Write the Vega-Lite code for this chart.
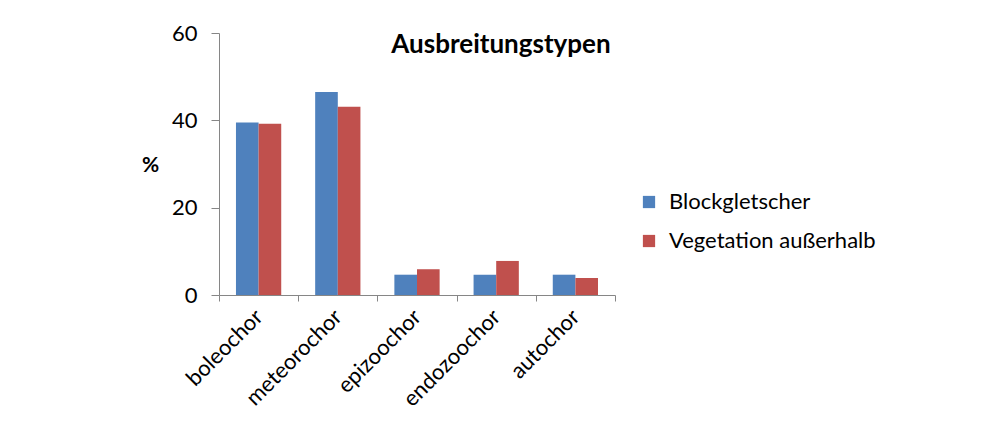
{
  "$schema": "https://vega.github.io/schema/vega-lite/v6.json",
  "autosize": {"type": "none"},
  "padding": {"left": 219, "top": 33, "right": 373, "bottom": 131},
  "width": 396,
  "height": 262,
  "background": "white",
  "title": {
    "text": "Ausbreitungstypen",
    "font": "Lato",
    "fontSize": 26,
    "fontWeight": "bold",
    "color": "black",
    "anchor": "middle",
    "dx": 84,
    "offset": -57,
    "baseline": "alphabetic"
  },
  "data": {
    "values": [
      {"Typ": "boleochor", "Gruppe": "Blockgletscher", "Wert": 39.5},
      {"Typ": "boleochor", "Gruppe": "Vegetation außerhalb", "Wert": 39.2},
      {"Typ": "meteorochor", "Gruppe": "Blockgletscher", "Wert": 46.5},
      {"Typ": "meteorochor", "Gruppe": "Vegetation außerhalb", "Wert": 43.1},
      {"Typ": "epizoochor", "Gruppe": "Blockgletscher", "Wert": 4.65},
      {"Typ": "epizoochor", "Gruppe": "Vegetation außerhalb", "Wert": 5.9},
      {"Typ": "endozoochor", "Gruppe": "Blockgletscher", "Wert": 4.65},
      {"Typ": "endozoochor", "Gruppe": "Vegetation außerhalb", "Wert": 7.8},
      {"Typ": "autochor", "Gruppe": "Blockgletscher", "Wert": 4.65},
      {"Typ": "autochor", "Gruppe": "Vegetation außerhalb", "Wert": 3.9}
    ]
  },
  "mark": {"type": "bar"},
  "encoding": {
    "x": {
      "field": "Typ",
      "type": "nominal",
      "sort": ["boleochor", "meteorochor", "epizoochor", "endozoochor", "autochor"],
      "scale": {"paddingInner": 0, "paddingOuter": 0},
      "axis": {
        "title": null,
        "labelAngle": -45,
        "labelAlign": "right",
        "labelBaseline": "middle",
        "labelFont": "Lato",
        "labelFontSize": 22,
        "labelColor": "black",
        "labelPadding": 12,
        "tickBand": "extent",
        "tickSize": 6,
        "tickColor": "#868686",
        "domainColor": "#868686",
        "grid": false
      }
    },
    "xOffset": {
      "field": "Gruppe",
      "type": "nominal",
      "scale": {"paddingInner": 0, "paddingOuter": 0.75}
    },
    "y": {
      "field": "Wert",
      "type": "quantitative",
      "scale": {"domain": [0, 60], "nice": false},
      "axis": {
        "title": "%",
        "titleAngle": 0,
        "titleFont": "Lato",
        "titleFontSize": 21,
        "titleFontWeight": "bold",
        "titleColor": "black",
        "titleX": -69,
        "titleY": 142,
        "titleAlign": "center",
        "values": [0, 20, 40, 60],
        "labelFont": "Lato",
        "labelFontSize": 22,
        "labelColor": "black",
        "labelPadding": 14,
        "tickSize": 8,
        "tickColor": "#868686",
        "domainColor": "#868686",
        "grid": false
      }
    },
    "color": {
      "field": "Gruppe",
      "type": "nominal",
      "scale": {
        "domain": ["Blockgletscher", "Vegetation außerhalb"],
        "range": ["#4F81BD", "#C0504D"]
      },
      "legend": {
        "title": null,
        "orient": "none",
        "legendX": 419,
        "legendY": 158,
        "symbolType": "square",
        "symbolSize": 150,
        "symbolStrokeWidth": 0,
        "labelFont": "Lato",
        "labelFontSize": 22,
        "labelColor": "black",
        "labelOffset": 9,
        "labelLimit": 0,
        "rowPadding": 17
      }
    }
  },
  "config": {
    "view": {"stroke": null}
  }
}
